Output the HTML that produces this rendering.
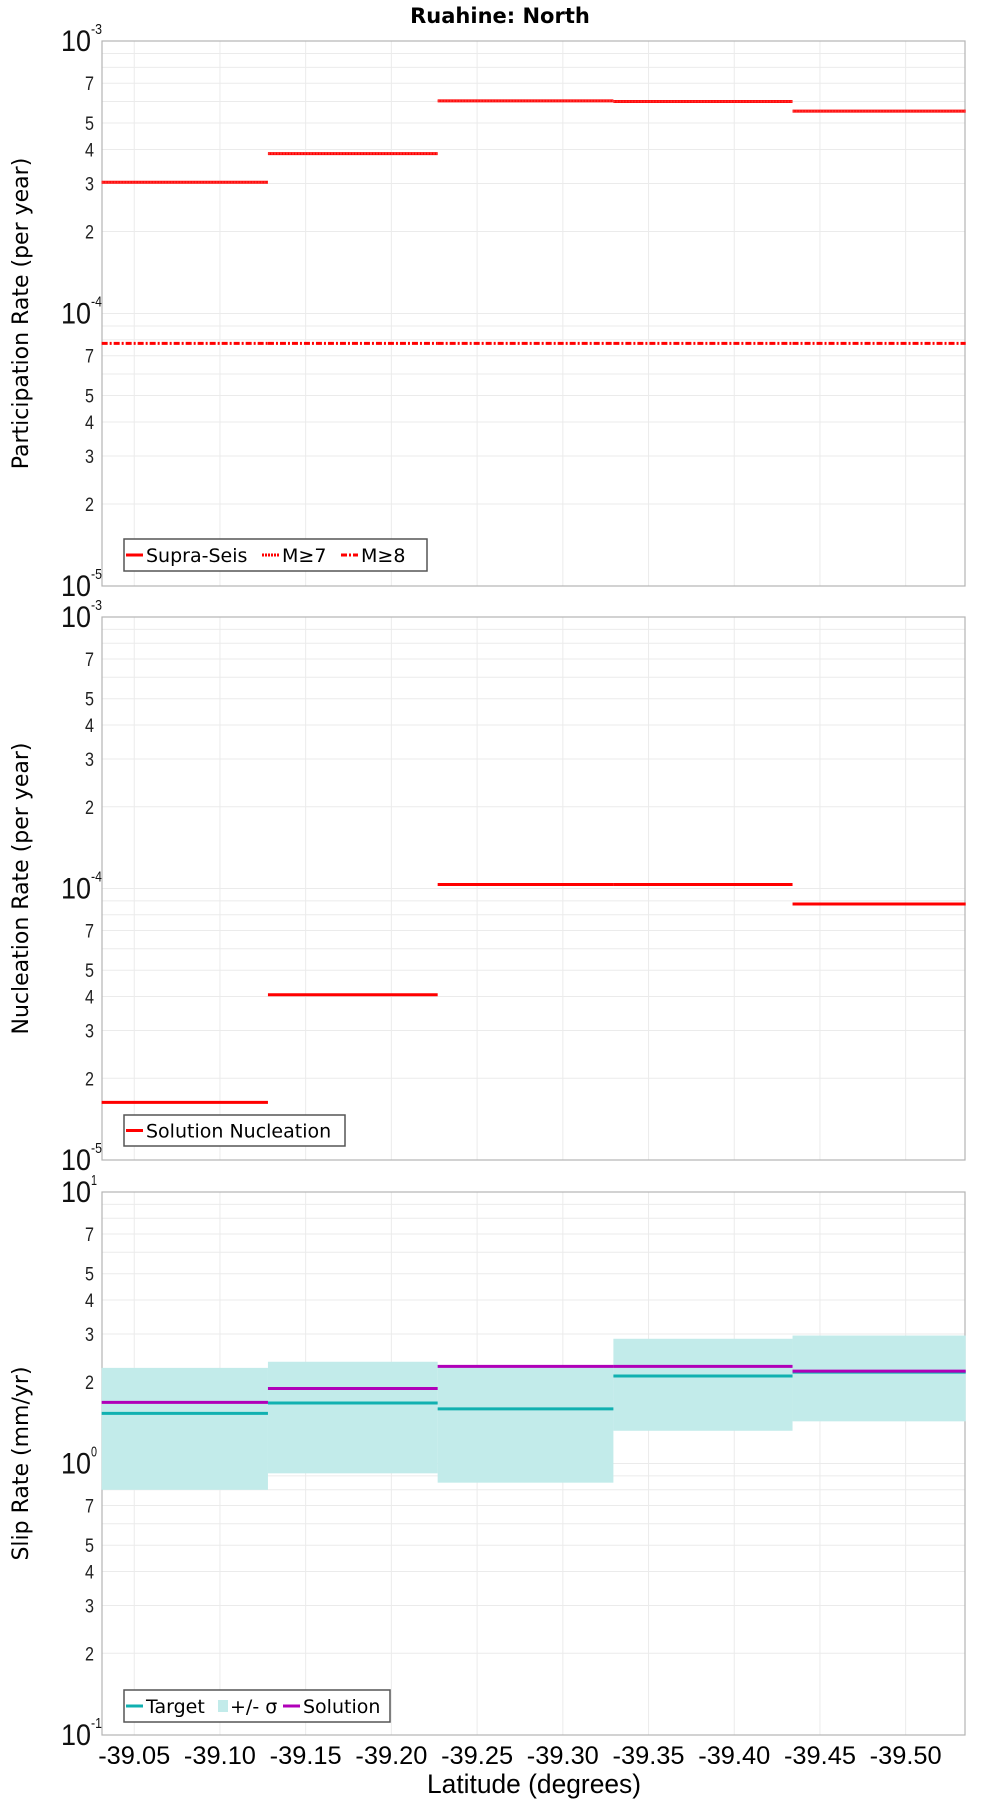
<!DOCTYPE html>
<html><head><meta charset="utf-8"><style>
html,body{margin:0;padding:0;background:#fff;}
svg{display:block;font-family:"Liberation Sans","DejaVu Sans",sans-serif;}
.dj{font-family:"DejaVu Sans","Liberation Sans",sans-serif;}
</style></head><body>
<svg id="chart" width="1000" height="1800" viewBox="0 0 1000 1800" xmlns="http://www.w3.org/2000/svg">
<text class="dj" x="500" y="23" text-anchor="middle" font-size="21" font-weight="bold">Ruahine: North</text>
<g id="layer"></g>
</svg>
<script>
// segment boundaries (latitude)
const segStart = [-39.031, -39.128, -39.227, -39.3295, -39.434];
const segEnd = [-39.128, -39.227, -39.3295, -39.434, -39.535];
const xTicks = [-39.05, -39.10, -39.15, -39.20, -39.25, -39.30, -39.35, -39.40, -39.45, -39.50];
const xTickLabels = ["-39.05","-39.10","-39.15","-39.20","-39.25","-39.30","-39.35","-39.40","-39.45","-39.50"];
// participation
const supraSeis = [3.03e-4, 3.86e-4, 6.03e-4, 6.0e-4, 5.53e-4];
const m7 = [3.03e-4, 3.86e-4, 6.03e-4, 6.0e-4, 5.53e-4];
const m8 = [7.77e-5, 7.77e-5, 7.77e-5, 7.77e-5, 7.77e-5];
// nucleation
const nucleation = [1.63e-5, 4.06e-5, 1.035e-4, 1.035e-4, 8.77e-5];
// slip
const target = [1.53, 1.67, 1.59, 2.10, 2.17];
const solution = [1.68, 1.89, 2.28, 2.28, 2.19];
const sigmaHi = [2.25, 2.37, 2.30, 2.88, 2.96];
const sigmaLo = [0.80, 0.92, 0.85, 1.32, 1.43];

const NS = "http://www.w3.org/2000/svg";
const layer = document.getElementById('layer');
const L = 102, R = 965, latL = -39.0312, latR = -39.5346;
function xs(v){ return L + (v - latL) / (latR - latL) * (R - L); }
function mk(tag, attrs, parent){ const e = document.createElementNS(NS, tag); for (const k in attrs) e.setAttribute(k, attrs[k]); (parent||layer).appendChild(e); return e; }

function panel(top, bottom, dmin, dmax, title, pname){
  const g = mk('g', {});
  
  
  const ys = v => bottom - (Math.log10(v) - dmin) / (dmax - dmin) * (bottom - top);
  for (const t of xTicks){
    const l = mk('line', {x1: xs(t), x2: xs(t), y1: top, y2: bottom, stroke: '#ebebeb', 'stroke-width': 1}, g);
    
    
  }
  for (let d = dmin; d < dmax; d++){
    for (let m = 1; m <= 9; m++){
      const v = m * Math.pow(10, d), y = ys(v);
      if (m > 1 || d > dmin){
        const l = mk('line', {x1: L, x2: R, y1: y, y2: y, stroke: '#ebebeb', 'stroke-width': 1}, g);
        
        
      }
      if ([2,3,4,5,7].includes(m)){
        const t = mk('text', {x: 94, y: y + 7, 'text-anchor': 'end', 'font-size': 19, fill: '#222', textLength: 9, lengthAdjust: 'spacingAndGlyphs'}, g);
        t.textContent = m;
        
        
      }
    }
  }
  for (let d = dmin; d <= dmax; d++){
    const y = ys(Math.pow(10, d));
    const t = mk('text', {x: 61, y: y + 10, 'font-size': 30, fill: '#111', textLength: 30, lengthAdjust: 'spacingAndGlyphs'}, g);
    t.textContent = '10';
    
    
    const s = mk('text', {x: 91, y: y - 7, 'font-size': 15, fill: '#111', textLength: d < 0 ? 11 : 6, lengthAdjust: 'spacingAndGlyphs'}, g);
    s.textContent = String(d);
    
    
  }
  const fr = mk('rect', {x: L, y: top, width: R - L, height: bottom - top, fill: 'none', stroke: '#b4b4b4', 'stroke-width': 1.2}, g);
  
  
  const yt = mk('text', {x: 0, y: 0, 'class': 'dj', 'text-anchor': 'middle', 'font-size': 22, transform: `translate(28,${(top+bottom)/2}) rotate(-90)`}, g);
  yt.textContent = title;
  
  
  return {g, ys};
}
function steps(p, vals, color, w, dash, name){
  for (let i = 0; i < vals.length; i++){
    const y = p.ys(vals[i]);
    const a = {x1: xs(segStart[i]), x2: xs(segEnd[i]), y1: y, y2: y, stroke: color, 'stroke-width': w};
    if (dash) a['stroke-dasharray'] = dash;
    const l = mk('line', a, p.g);
    
    
  }
}
function legend(g, x, y, w, h, items, name){
  const lg = mk('g', {}, g);
  
  
  mk('rect', {x: x, y: y, width: w, height: h, fill: '#fff', stroke: '#555', 'stroke-width': 1.5}, lg);
  let cx = x + 2;
  for (const it of items){
    if (it.box){ mk('rect', {x: cx, y: y + h/2 - 6, width: 10, height: 12, fill: it.color}, lg); cx += 12; }
    else { const a = {x1: cx, x2: cx + 17, y1: y + h/2, y2: y + h/2, stroke: it.color, 'stroke-width': 3}; if (it.dash) a['stroke-dasharray'] = it.dash; mk('line', a, lg); cx += 20; }
    const t = mk('text', {x: cx, y: y + h/2 + 7, 'class': 'dj', 'font-size': 19}, lg);
    t.textContent = it.label;
    
    
    cx += it.tw;
  }
}

const p1 = panel(41, 586, -5, -3, 'Participation Rate (per year)', 'participation-panel');
steps(p1, supraSeis, '#ff0000', 3, null, 'supra-seis-segment');
steps(p1, m7, '#ff3030', 2, '2,1', 'm7-segment');
steps(p1, m8, '#ff0000', 3, '6,2,2,2', 'm8-segment');
legend(p1.g, 124, 539, 303, 32, [
  {color:'#ff0000', label:'Supra-Seis', tw:116},
  {color:'#ff0000', dash:'2,1', label:'M≥7', tw:59},
  {color:'#ff0000', dash:'6,2,2,2', label:'M≥8', tw:50}], 'participation-legend');

const p2 = panel(617, 1160, -5, -3, 'Nucleation Rate (per year)', 'nucleation-panel');
steps(p2, nucleation, '#ff0000', 3, null, 'nucleation-segment');
legend(p2.g, 124, 1115, 221, 31, [{color:'#ff0000', label:'Solution Nucleation', tw:190}], 'nucleation-legend');

const p3 = panel(1192, 1735, -1, 1, 'Slip Rate (mm/yr)', 'slip-rate-panel');
for (let i = 0; i < sigmaHi.length; i++){
  const y1 = p3.ys(sigmaHi[i]), y2 = p3.ys(sigmaLo[i]);
  const r = mk('rect', {x: xs(segStart[i]), y: y1, width: xs(segEnd[i]) - xs(segStart[i]), height: y2 - y1, fill: '#c2ebea'}, p3.g);
  
  
}
steps(p3, target, '#10b0b0', 3, null, 'target-segment');
steps(p3, solution, '#b000b8', 3, null, 'solution-segment');
legend(p3.g, 124, 1690, 266, 32, [
  {color:'#10b0b0', label:'Target', tw:72},
  {color:'#c2ebea', box:true, label:'+/- σ', tw:53},
  {color:'#b000b8', label:'Solution', tw:80}], 'slip-legend');

xTicks.forEach((t, i) => {
  const tx = mk('text', {x: xs(t), y: 1764, 'text-anchor': 'middle', 'font-size': 25, textLength: 72, lengthAdjust: 'spacingAndGlyphs'});
  tx.textContent = xTickLabels[i];
  
  
});
const xl = mk('text', {x: 534, y: 1793, 'text-anchor': 'middle', 'font-size': 27, textLength: 214, lengthAdjust: 'spacingAndGlyphs'});
xl.textContent = 'Latitude (degrees)';


</script>
</body></html>
